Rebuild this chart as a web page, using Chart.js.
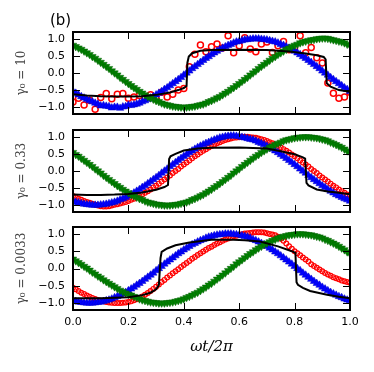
<!DOCTYPE html>
<html>
<head>
<meta charset="utf-8">
<script src="https://cdn.jsdelivr.net/npm/chart.js@4.4.1/dist/chart.umd.min.js"></script>
<style>
  body { margin: 0; background: #fff; }
  #wrap { position: relative; width: 374px; height: 372px; background: #fff; }
  #wrap canvas { position: absolute; left: 0; top: 0; }
  #tag { position: absolute; left: 50px; top: 13px; font: 15px "DejaVu Sans"; line-height: 15px; color: #000; }
</style>
</head>
<body>
<div id="wrap">
  <canvas id="p1" width="374" height="372"></canvas>
  <canvas id="p2" width="374" height="372"></canvas>
  <canvas id="p3" width="374" height="372"></canvas>
  <div id="tag">(b)</div>
</div>
<script>
// phase axis (omega t / 2 pi), fine grid for the simulated curves
const xs = [0.00,0.01,0.02,0.03,0.04,0.05,0.06,0.07,0.08,0.09,0.10,0.11,0.12,0.13,0.14,0.15,0.16,0.17,0.18,0.19,
  0.20,0.21,0.22,0.23,0.24,0.25,0.26,0.27,0.28,0.29,0.30,0.31,0.32,0.33,0.34,0.35,0.36,0.37,0.38,0.39,
  0.40,0.41,0.42,0.43,0.44,0.45,0.46,0.47,0.48,0.49,0.50,0.51,0.52,0.53,0.54,0.55,0.56,0.57,0.58,0.59,
  0.60,0.61,0.62,0.63,0.64,0.65,0.66,0.67,0.68,0.69,0.70,0.71,0.72,0.73,0.74,0.75,0.76,0.77,0.78,0.79,
  0.80,0.81,0.82,0.83,0.84,0.85,0.86,0.87,0.88,0.89,0.90,0.91,0.92,0.93,0.94,0.95,0.96,0.97,0.98,0.99,1.00];
// coarser grid for the noisy points of the top panel
const xsCoarse = [0.00,0.02,0.04,0.06,0.08,0.10,0.12,0.14,0.16,0.18,0.20,0.22,0.24,0.26,0.28,0.30,0.32,0.34,0.36,0.38,
  0.40,0.42,0.44,0.46,0.48,0.50,0.52,0.54,0.56,0.58,0.60,0.62,0.64,0.66,0.68,0.70,0.72,0.74,0.76,0.78,
  0.80,0.82,0.84,0.86,0.88,0.90,0.92,0.94,0.96,0.98,1.00];

const xTickValues = [0, 0.2, 0.4, 0.6, 0.8, 1.0];
const xTickLabels = ['0.0', '0.2', '0.4', '0.6', '0.8', '1.0'];
const yTickValues = [-1, -0.5, 0, 0.5, 1];
const yTickLabels = ['\u22121.0', '\u22120.5', '0.0', '0.5', '1.0'];
const panelLabels = ['\u03b3\u2080 = 10', '\u03b3\u2080 = 0.33', '\u03b3\u2080 = 0.0033'];

/* panel 1 : gamma0 = 10 */
const red1 = [-0.85,-0.74,-0.94,-0.80,-1.06,-0.72,-0.60,-0.75,-0.62,-0.60,-0.74,-0.70,-0.66,-0.72,-0.64,-0.75,-0.56,-0.70,-0.62,-0.50,
  -0.45,0.18,0.55,0.82,0.62,0.77,0.85,0.73,1.09,0.59,0.80,1.03,0.70,0.62,0.85,0.91,0.60,0.80,0.92,0.68,
  0.75,1.09,0.59,0.75,0.45,0.29,-0.29,-0.59,-0.74,-0.70,-0.56];
const blue1 = [-0.54,-0.59,-0.64,-0.69,-0.73,-0.77,
  -0.81,-0.84,-0.88,-0.91,-0.96,-0.95,-0.97,-0.98,-1.02,-1.00,
  -1.00,-1.03,-0.99,-0.98,-0.94,-0.95,-0.93,-0.91,-0.88,-0.84,
  -0.81,-0.77,-0.73,-0.69,-0.64,-0.59,-0.54,-0.48,-0.43,-0.37,
  -0.31,-0.25,-0.19,-0.13,-0.06,0.00,0.06,0.13,0.19,0.25,
  0.31,0.37,0.43,0.48,0.54,0.59,0.64,0.69,0.73,0.77,
  0.81,0.84,0.88,0.91,0.93,0.95,0.97,0.98,0.99,1.00,
  1.00,1.00,0.99,0.98,0.97,0.95,0.93,0.91,0.88,0.84,
  0.81,0.77,0.73,0.69,0.64,0.59,0.54,0.48,0.43,0.37,
  0.31,0.25,0.19,0.13,0.06,0.00,-0.06,-0.13,-0.19,-0.25,
  -0.31,-0.37,-0.43,-0.48,-0.54];
const green1 = [0.81,0.77,0.73,0.69,0.64,0.59,0.54,0.48,0.43,0.37,
  0.31,0.25,0.19,0.13,0.06,0.00,-0.06,-0.13,-0.19,-0.25,
  -0.31,-0.37,-0.43,-0.48,-0.54,-0.59,-0.64,-0.69,-0.73,-0.77,
  -0.81,-0.84,-0.88,-0.91,-0.93,-0.95,-0.97,-0.98,-0.99,-1.00,
  -1.00,-1.00,-0.99,-0.98,-0.97,-0.95,-0.93,-0.91,-0.88,-0.84,
  -0.81,-0.77,-0.73,-0.69,-0.64,-0.59,-0.54,-0.48,-0.43,-0.37,
  -0.31,-0.25,-0.19,-0.13,-0.06,0.00,0.06,0.13,0.19,0.25,
  0.31,0.37,0.43,0.48,0.54,0.59,0.64,0.69,0.73,0.77,
  0.81,0.84,0.88,0.91,0.93,0.95,0.97,0.98,1.00,1.01,
  1.02,1.02,1.01,0.99,0.97,0.95,0.93,0.91,0.88,0.84,
  0.81];
const black1X = [0,0.05,0.1,0.15,0.2,0.25,0.3,0.35,0.38,0.4,0.41,0.413,0.418,0.43,0.46,0.5,0.6,0.7,0.78,0.84,0.88,0.905,0.912,0.916,0.93,0.96,1.0];
const black1Y = [-0.62,-0.66,-0.68,-0.69,-0.69,-0.68,-0.64,-0.57,-0.5,-0.44,-0.38,0.3,0.48,0.58,0.65,0.67,0.68,0.67,0.63,0.57,0.52,0.47,0.4,-0.3,-0.4,-0.5,-0.55];

/* panel 2 : gamma0 = 0.33 */
const red2 = [-0.73,-0.77,
  -0.81,-0.84,-0.88,-0.91,-0.93,-0.96,-0.99,-1.01,-1.03,-1.04,
  -1.04,-1.03,-1.01,-0.99,-0.97,-0.95,-0.93,-0.91,-0.88,-0.84,
  -0.81,-0.77,-0.73,-0.69,-0.64,-0.59,-0.54,-0.48,-0.43,-0.37,
  -0.31,-0.25,-0.19,-0.13,-0.06,0.00,0.06,0.13,0.19,0.25,
  0.31,0.37,0.43,0.48,0.54,0.59,0.64,0.69,0.73,0.77,
  0.81,0.84,0.88,0.91,0.93,0.95,0.97,0.98,0.99,1.00,
  1.00,1.00,0.99,0.98,0.97,0.95,0.93,0.91,0.88,0.84,
  0.81,0.77,0.73,0.69,0.64,0.59,0.54,0.48,0.43,0.37,
  0.31,0.25,0.19,0.13,0.06,0.00,-0.06,-0.13,-0.19,-0.25,
  -0.31,-0.37,-0.43,-0.48,-0.54,-0.59,-0.64,-0.69,-0.73];
const blue2 = [-0.88,-0.91,-0.93,-0.95,-0.97,-0.98,-0.99,-1.00,
  -1.00,-1.00,-0.99,-0.98,-0.97,-0.95,-0.93,-0.91,-0.88,-0.84,
  -0.81,-0.77,-0.73,-0.69,-0.64,-0.59,-0.54,-0.48,-0.43,-0.37,
  -0.31,-0.25,-0.19,-0.13,-0.06,0.00,0.06,0.13,0.19,0.25,
  0.31,0.37,0.43,0.48,0.54,0.59,0.64,0.69,0.73,0.77,
  0.81,0.84,0.88,0.91,0.94,0.97,0.99,1.01,1.02,1.03,
  1.03,1.02,1.01,0.99,0.97,0.95,0.93,0.91,0.88,0.84,
  0.81,0.77,0.73,0.69,0.64,0.59,0.54,0.48,0.43,0.37,
  0.31,0.25,0.19,0.13,0.06,0.00,-0.06,-0.13,-0.19,-0.25,
  -0.31,-0.37,-0.43,-0.48,-0.54,-0.59,-0.64,-0.69,-0.73,-0.77,
  -0.81,-0.84,-0.88];
const green2 = [0.54,0.48,0.43,0.37,
  0.31,0.25,0.19,0.13,0.06,0.00,-0.06,-0.13,-0.19,-0.25,
  -0.31,-0.37,-0.43,-0.48,-0.54,-0.59,-0.64,-0.69,-0.73,-0.77,
  -0.81,-0.84,-0.88,-0.91,-0.93,-0.95,-0.97,-0.98,-0.99,-1.00,
  -1.00,-1.00,-0.99,-0.98,-0.97,-0.95,-0.93,-0.91,-0.88,-0.84,
  -0.81,-0.77,-0.73,-0.69,-0.64,-0.59,-0.54,-0.48,-0.43,-0.37,
  -0.31,-0.25,-0.19,-0.13,-0.06,0.00,0.06,0.13,0.19,0.25,
  0.31,0.37,0.43,0.48,0.54,0.59,0.64,0.69,0.73,0.77,
  0.81,0.84,0.88,0.91,0.93,0.95,0.97,0.98,0.99,1.00,
  1.00,1.00,0.99,0.98,0.97,0.95,0.93,0.91,0.88,0.84,
  0.81,0.77,0.73,0.69,0.64,0.59,0.54];
const black2X = [0,0.05,0.1,0.15,0.2,0.25,0.3,0.33,0.343,0.347,0.352,0.37,0.4,0.45,0.5,0.6,0.7,0.75,0.8,0.83,0.838,0.843,0.85,0.88,0.92,0.96,1.0];
const black2Y = [-0.69,-0.7,-0.7,-0.69,-0.67,-0.63,-0.55,-0.47,-0.41,0.35,0.43,0.5,0.6,0.66,0.68,0.69,0.66,0.58,0.49,0.4,0.36,-0.35,-0.42,-0.54,-0.6,-0.64,-0.68];

/* panel 3 : gamma0 = 0.0033 */
const red3 = [-0.56,-0.60,-0.65,-0.70,-0.74,-0.78,-0.82,-0.85,-0.88,-0.91,
  -0.93,-0.95,-0.97,-0.98,-0.99,-1.00,-1.00,-1.00,-0.99,-0.98,
  -0.97,-0.95,-0.92,-0.89,-0.85,-0.81,-0.76,-0.71,-0.65,-0.59,
  -0.53,-0.46,-0.39,-0.33,-0.26,-0.20,-0.14,-0.08,-0.02,0.04,
  0.10,0.16,0.22,0.28,0.33,0.39,0.44,0.49,0.54,0.59,
  0.63,0.68,0.72,0.76,0.80,0.84,0.87,0.90,0.93,0.95,
  0.97,0.99,1.01,1.02,1.03,1.04,1.05,1.05,1.05,1.04,
  1.02,1.00,0.98,0.96,0.92,0.86,0.80,0.72,0.64,0.57,
  0.50,0.44,0.38,0.32,0.26,0.20,0.12,0.07,0.02,-0.03,
  -0.08,-0.13,-0.17,-0.21,-0.25,-0.28,-0.31,-0.35,-0.37,-0.39,-0.41];
const blue3 = [-0.93,-0.95,-0.97,-0.98,-0.99,-1.00,
  -1.00,-1.00,-0.99,-0.98,-0.97,-0.95,-0.93,-0.91,-0.88,-0.84,
  -0.81,-0.77,-0.73,-0.69,-0.64,-0.59,-0.54,-0.48,-0.43,-0.37,
  -0.31,-0.25,-0.19,-0.13,-0.06,0.00,0.06,0.13,0.19,0.25,
  0.31,0.37,0.43,0.48,0.54,0.59,0.64,0.69,0.73,0.77,
  0.81,0.84,0.88,0.91,0.93,0.95,0.97,0.98,0.99,1.00,
  1.00,1.00,0.99,0.98,0.97,0.95,0.93,0.91,0.88,0.84,
  0.81,0.77,0.73,0.69,0.64,0.59,0.54,0.48,0.43,0.37,
  0.31,0.25,0.19,0.13,0.06,0.00,-0.06,-0.13,-0.19,-0.25,
  -0.31,-0.37,-0.43,-0.48,-0.54,-0.59,-0.64,-0.69,-0.73,-0.77,
  -0.81,-0.84,-0.88,-0.91,-0.93];
const green3 = [0.27,0.22,0.17,0.12,0.06,0.01,-0.05,-0.11,-0.16,-0.22,
  -0.27,-0.33,-0.38,-0.43,-0.48,-0.53,-0.58,-0.63,-0.67,-0.71,
  -0.75,-0.77,
  -0.81,-0.84,-0.88,-0.91,-0.93,-0.95,-0.97,-0.98,-0.99,-1.00,
  -1.00,-1.00,-0.99,-0.98,-0.97,-0.95,-0.93,-0.91,-0.88,-0.84,
  -0.81,-0.77,-0.73,-0.69,-0.64,-0.59,-0.54,-0.48,-0.43,-0.37,
  -0.31,-0.25,-0.19,-0.13,-0.06,0.00,0.06,0.13,0.19,0.25,
  0.31,0.37,0.43,0.48,0.54,0.59,0.64,0.69,0.73,0.77,
  0.81,0.84,0.88,0.91,0.93,0.95,0.97,0.98,0.99,1.00,
  1.00,1.00,0.99,0.98,0.97,0.95,0.93,0.91,0.88,0.84,
  0.81,0.77,0.73,0.69,0.64,0.59,0.54,0.48,0.43];
const black3X = [0,0.1,0.2,0.25,0.28,0.3,0.31,0.316,0.32,0.34,0.37,0.42,0.5,0.58,0.62,0.675,0.74,0.79,0.803,0.807,0.812,0.83,0.856,0.917,0.96,1.0];
const black3Y = [-0.86,-0.86,-0.83,-0.77,-0.7,-0.6,-0.48,0.3,0.48,0.58,0.67,0.75,0.83,0.83,0.82,0.78,0.64,0.5,0.45,-0.4,-0.47,-0.56,-0.65,-0.76,-0.82,-0.86];

// inward ticks on all four sides + frame, like the old matplotlib style
const frameTicks = {
  id: 'frameTicks',
  afterDraw(chart) {
    const { ctx, chartArea: a, scales } = chart;
    ctx.save();
    ctx.strokeStyle = '#000';
    ctx.lineWidth = 1;
    ctx.beginPath();
    for (const v of xTickValues) {
      const px = Math.round(scales.x.getPixelForValue(v)) + 0.5;
      ctx.moveTo(px, a.bottom); ctx.lineTo(px, a.bottom - 7);
      ctx.moveTo(px, a.top); ctx.lineTo(px, a.top + 7);
    }
    for (const v of yTickValues) {
      const py = Math.round(scales.y.getPixelForValue(v)) + 0.5;
      ctx.moveTo(a.left, py); ctx.lineTo(a.left + 7, py);
      ctx.moveTo(a.right, py); ctx.lineTo(a.right - 7, py);
    }
    ctx.stroke();
    ctx.lineWidth = 2;
    ctx.strokeRect(a.left, a.top, a.right - a.left, a.bottom - a.top);
    ctx.restore();
  }
};

function pts(xv, yv) {
  return xv.map((x, i) => ({ x: x, y: yv[i] }));
}

function makePanel(id, p) {
  const last = p.last;
  new Chart(document.getElementById(id), {
    type: 'scatter',
    data: {
      datasets: [
        { data: pts(p.bx, p.by), showLine: true, borderColor: '#000', borderWidth: 2, pointRadius: 0, tension: 0 },
        { data: pts(xs, p.green), pointStyle: 'triangle', rotation: 180, pointRadius: 4.3,
          backgroundColor: '#008000', borderColor: '#006400', borderWidth: 0.5 },
        { data: pts(xs, p.blue), pointStyle: 'triangle', pointRadius: 4.3,
          backgroundColor: '#0000ff', borderColor: '#0000c8', borderWidth: 0.5 },
        { data: pts(p.rx, p.red), pointStyle: 'circle', pointRadius: p.rr,
          backgroundColor: 'rgba(255,255,255,0)', borderColor: '#ff0000', borderWidth: p.rw }
      ]
    },
    options: {
      responsive: false,
      animation: false,
      devicePixelRatio: 1,
      layout: { padding: { left: 0, right: 24, top: p.top, bottom: last ? 0 : 372 - p.bottom } },
      plugins: { legend: { display: false }, tooltip: { enabled: false } },
      scales: {
        x: {
          type: 'linear', min: 0, max: 1,
          grid: { display: false, drawTicks: false },
          border: { display: false },
          afterBuildTicks: s => { s.ticks = xTickValues.map(v => ({ value: v })); },
          afterFit: s => { s.height = last ? 372 - p.bottom : 0; },
          ticks: {
            display: last, padding: 6, color: '#000',
            font: { family: 'DejaVu Sans', size: 11 },
            callback: (v, i) => xTickLabels[i]
          },
          title: {
            display: last, text: '\u03c9t/2\u03c0', color: '#000',
            font: { family: 'DejaVu Serif', size: 15, style: 'italic' },
            padding: { top: 0, bottom: 16 }
          }
        },
        y: {
          min: -1.2, max: 1.2,
          grid: { display: false, drawTicks: false },
          border: { display: false },
          afterBuildTicks: s => { s.ticks = yTickValues.map(v => ({ value: v })); },
          afterFit: s => { s.width = 73; },
          ticks: {
            padding: 8, color: '#000',
            font: { family: 'DejaVu Sans', size: 11 },
            callback: (v, i) => yTickLabels[i]
          },
          title: {
            display: true, text: p.label, color: '#444',
            font: { family: 'DejaVu Serif', size: 12 },
            padding: { top: 15, bottom: 0 }
          }
        }
      }
    },
    plugins: [frameTicks]
  });
}

makePanel('p1', { label: panelLabels[0], rx: xsCoarse, red: red1, blue: blue1, green: green1,
  bx: black1X, by: black1Y, rr: 3, rw: 1.5, top: 32, bottom: 114, last: false });
makePanel('p2', { label: panelLabels[1], rx: xs, red: red2, blue: blue2, green: green2,
  bx: black2X, by: black2Y, rr: 2.4, rw: 1.2, top: 130, bottom: 212, last: false });
makePanel('p3', { label: panelLabels[2], rx: xs, red: red3, blue: blue3, green: green3,
  bx: black3X, by: black3Y, rr: 2.4, rw: 1.2, top: 227, bottom: 310, last: true });
</script>
</body>
</html>
